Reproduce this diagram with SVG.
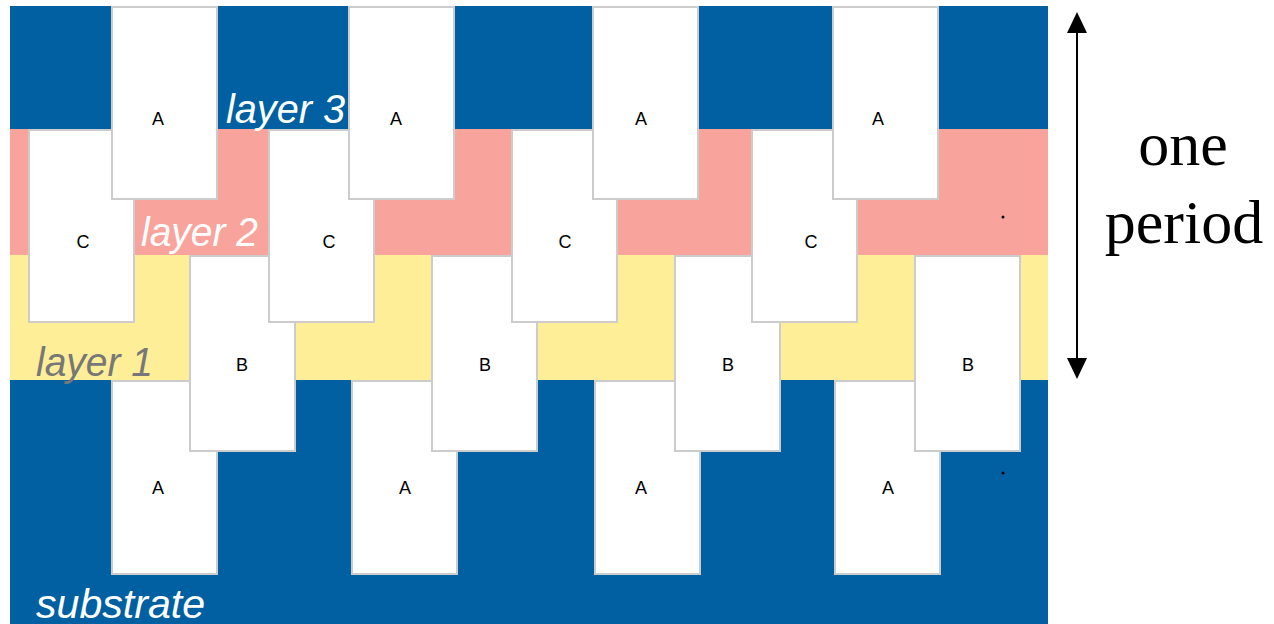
<svg xmlns="http://www.w3.org/2000/svg" width="1274" height="624" viewBox="0 0 1274 624">
<defs>
<style>
.blue{fill:#0060A2}
.pink{fill:#F8A39B}
.yellow{fill:#FEEE98}
.box{fill:#fff;stroke:#cccccc;stroke-width:2}
.bl{font-family:"Liberation Sans",Arial,sans-serif;font-size:18px;fill:#000;text-anchor:middle}
.lay{font-family:"Liberation Sans",Arial,sans-serif;font-style:italic;font-size:40px}
.per{font-family:"Liberation Serif","Times New Roman",serif;font-size:62px;fill:#000;text-anchor:middle}
.head{fill:#000}
</style>
</defs>
<rect width="1274" height="624" fill="#fff"/>
<g id="bands">
<rect class="blue" x="10" y="6" width="1038" height="123"/>
<rect class="pink" x="10" y="129" width="1038" height="126"/>
<rect class="yellow" x="10" y="255" width="1038" height="125"/>
<rect class="blue" x="10" y="380" width="1038" height="244"/>
</g>
<g id="row-bottom-A">
<g id="a5"><rect class="box" x="112" y="381" width="105" height="193"/><text class="bl" x="158" y="494">A</text></g>
<g id="a6"><rect class="box" x="352" y="381" width="105" height="193"/><text class="bl" x="405" y="494">A</text></g>
<g id="a7"><rect class="box" x="595" y="381" width="105" height="193"/><text class="bl" x="641" y="494">A</text></g>
<g id="a8"><rect class="box" x="835" y="381" width="105" height="193"/><text class="bl" x="888" y="494">A</text></g>
</g>
<g id="row-B">
<g id="b1"><rect class="box" x="190" y="256" width="105" height="195"/><text class="bl" x="242" y="371">B</text></g>
<g id="b2"><rect class="box" x="432" y="256" width="105" height="195"/><text class="bl" x="485" y="371">B</text></g>
<g id="b3"><rect class="box" x="675" y="256" width="105" height="195"/><text class="bl" x="728" y="371">B</text></g>
<g id="b4"><rect class="box" x="915" y="256" width="105" height="195"/><text class="bl" x="968" y="371">B</text></g>
</g>
<g id="row-C">
<g id="c1"><rect class="box" x="29" y="130" width="105" height="192"/><text class="bl" x="83" y="248">C</text></g>
<g id="c2"><rect class="box" x="269" y="130" width="105" height="192"/><text class="bl" x="329" y="248">C</text></g>
<g id="c3"><rect class="box" x="512" y="130" width="105" height="192"/><text class="bl" x="565" y="248">C</text></g>
<g id="c4"><rect class="box" x="752" y="130" width="105" height="192"/><text class="bl" x="811" y="248">C</text></g>
</g>
<g id="row-top-A">
<g id="a1"><rect class="box" x="112" y="7" width="105" height="192"/><text class="bl" x="158" y="125">A</text></g>
<g id="a2"><rect class="box" x="349" y="7" width="105" height="192"/><text class="bl" x="396" y="125">A</text></g>
<g id="a3"><rect class="box" x="593" y="7" width="105" height="192"/><text class="bl" x="641" y="125">A</text></g>
<g id="a4"><rect class="box" x="833" y="7" width="105" height="192"/><text class="bl" x="878" y="125">A</text></g>
</g>
<g id="labels">
<text class="lay" x="226" y="123" fill="#fff" textLength="119" lengthAdjust="spacingAndGlyphs">layer 3</text>
<text class="lay" x="141" y="246" fill="#fff" textLength="117" lengthAdjust="spacingAndGlyphs">layer 2</text>
<text class="lay" x="36" y="376" fill="#777777" textLength="117" lengthAdjust="spacingAndGlyphs">layer 1</text>
<text class="lay" x="36" y="618" fill="#fff" textLength="169" lengthAdjust="spacingAndGlyphs">substrate</text>
</g>
<g id="dots">
<circle cx="1003" cy="217" r="1.5" fill="#000"/>
<circle cx="1003" cy="473" r="1.5" fill="#000"/>
</g>
<g id="connectors">
<line x1="1077" y1="30" x2="1077" y2="361" stroke="#000" stroke-width="2"/>
<polygon class="head" points="1077,12 1087,33 1067,33"/>
<polygon class="head" points="1077,379 1087,358 1067,358"/>
</g>
<g id="period-label">
<text class="per" x="1183" y="165">one</text>
<text class="per" x="1184" y="243">period</text>
</g>
</svg>
